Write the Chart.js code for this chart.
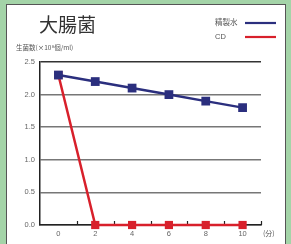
<!DOCTYPE html>
<html>
<head>
<meta charset="utf-8">
<script src="https://cdn.jsdelivr.net/npm/chart.js@4.4.0/dist/chart.umd.min.js"></script>
<style>
    html, body { margin: 0; padding: 0; }
    body { width: 291px; height: 244px; background: #a4d4a8; position: relative; overflow: hidden; }
    #panel { position: absolute; left: 6px; top: 4px; width: 280px; height: 260px; background: #fff; border: 1.5px solid #555; box-sizing: border-box; }
    #chart { position: absolute; left: 0; top: 0; }
</style>
</head>
<body>
<div id="panel"></div>
<canvas id="chart" width="291" height="244"></canvas>
<script>
// 時間(分)
var minutes = [0, 2, 4, 6, 8, 10];
// 生菌数(×10^8個/ml)
var waterValues = [2.3, 2.2, 2.1, 2.0, 1.9, 1.8]; // 精製水
var cdValues = [2.3, 0, 0, 0, 0, 0]; // CD
var yTicks = [0.0, 0.5, 1.0, 1.5, 2.0, 2.5];
var xLabels = [0, 2, 4, 6, 8, 10];
var xMinorTicks = [1, 3, 5, 7, 9, 11];

var titleText = "大腸菌";
var yTitleText = "生菌数(×10⁸個/ml)";
var xUnitText = "(分)";

var blue = "#2b2f7e";
var red = "#d8202b";
var fontFamily = "'Liberation Sans', 'Noto Sans CJK JP', sans-serif";
var cjkFont = "'Noto Sans CJK JP', sans-serif";

function toPoints(values) {
    var pts = [];
    for (var i = 0; i < minutes.length; i++) {
        pts.push({ x: minutes[i], y: values[i] });
    }
    return pts;
}

// タイトル・凡例・目盛りなどを描く
var decoPlugin = {
    id: "deco",
    beforeDatasetsDraw: function (chart) {
        var ctx = chart.ctx;
        var xs = chart.scales.x;
        var ys = chart.scales.y;
        ctx.save();
        // x軸の小さな目盛り(奇数)
        ctx.strokeStyle = "#222";
        ctx.lineWidth = 1.2;
        xMinorTicks.forEach(function (v) {
            var px = Math.round(xs.getPixelForValue(v)) + 0.5;
            ctx.beginPath();
            ctx.moveTo(px, ys.bottom);
            ctx.lineTo(px, ys.bottom - 4);
            ctx.stroke();
        });
        ctx.restore();
    },
    afterDraw: function (chart) {
        var ctx = chart.ctx;
        ctx.save();

        // タイトル
        ctx.fillStyle = "#333";
        ctx.textBaseline = "middle";
        ctx.textAlign = "left";
        ctx.font = "19px " + cjkFont;
        ctx.fillText(titleText, 39, 25);

        // y軸タイトル
        ctx.font = "6.5px " + cjkFont;
        ctx.fillStyle = "#555";
        ctx.fillText(yTitleText, 16, 47.5);

        // 単位
        ctx.font = "7px " + cjkFont;
        ctx.fillText(xUnitText, 263, 233);

        // 凡例
        chart.data.datasets.forEach(function (ds, i) {
            var y = 23 + i * 14;
            ctx.fillStyle = "#555";
            ctx.font = "7.5px " + fontFamily;
            ctx.fillText(ds.label, 215, y);
            ctx.strokeStyle = ds.borderColor;
            ctx.lineWidth = 2.2;
            ctx.beginPath();
            ctx.moveTo(245, y);
            ctx.lineTo(276, y);
            ctx.stroke();
        });

        ctx.restore();
    }
};

var ctx = document.getElementById("chart").getContext("2d");
var myChart = new Chart(ctx, {
    type: "line",
    data: {
        datasets: [
            {
                label: "精製水",
                data: toPoints(waterValues),
                borderColor: blue,
                backgroundColor: blue,
                borderWidth: 2.5,
                pointStyle: "rect",
                pointRadius: 6.2,
                pointBorderWidth: 0,
                clip: false
            }, {
                label: "CD",
                data: toPoints(cdValues),
                borderColor: red,
                backgroundColor: red,
                borderWidth: 2.5,
                pointStyle: "rect",
                pointRadius: 5.8,
                pointBorderWidth: 0,
                clip: false
            }
        ]
    },
    options: {
        responsive: false,
        animation: false,
        layout: { padding: { left: 0, top: 62, right: 30, bottom: 0 } },
        plugins: {
            legend: { display: false },
            tooltip: { enabled: false }
        },
        scales: {
            x: {
                type: "linear",
                min: -1,
                max: 11,
                afterBuildTicks: function (scale) {
                    scale.ticks = xLabels.map(function (v) { return { value: v }; });
                },
                afterFit: function (scale) { scale.height = 19; },
                grid: { display: false, drawTicks: false },
                border: { color: "#222", width: 1.5 },
                ticks: {
                    padding: 4,
                    color: "#666",
                    font: { size: 7.5, family: fontFamily },
                    maxRotation: 0
                }
            },
            y: {
                min: 0,
                max: 2.5,
                afterBuildTicks: function (scale) {
                    scale.ticks = yTicks.map(function (v) { return { value: v }; });
                },
                afterFit: function (scale) { scale.width = 40; },
                grid: {
                    color: function (c) { return c.tick.value === 2.5 ? "#333" : "#777"; },
                    lineWidth: 1.5,
                    drawTicks: false
                },
                border: { color: "#222", width: 1.5 },
                ticks: {
                    padding: 5,
                    color: "#666",
                    font: { size: 7.5, family: fontFamily },
                    callback: function (v) { return v.toFixed(1); }
                }
            }
        }
    },
    plugins: [decoPlugin]
});
</script>
</body>
</html>
